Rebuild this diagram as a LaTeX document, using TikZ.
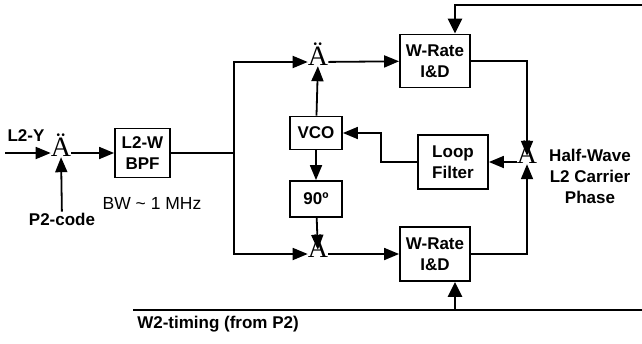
\documentclass[tikz,border=0pt]{standalone}
\usepackage{fontspec}
\setmainfont{Liberation Sans}
\newfontfamily\mixfont{Liberation Serif}
\usetikzlibrary{arrows.meta, positioning, calc}
\newcommand{\lblfont}{\bfseries\fontsize{17}{21}\selectfont}
\tikzset{
  blk/.style={draw, line width=1.8pt, minimum width=70pt, minimum height=54pt, align=center, font=\lblfont, inner sep=2pt},
  mix/.style={inner sep=0pt, font=\mixfont\fontsize{28}{28}\selectfont, text height=0.75em, text depth=0.05em},
  sig/.style={line width=1.8pt, -{Triangle[length=15pt,width=12pt]}},
  fbk/.style={line width=2.8pt, -{Triangle[length=15pt,width=14pt]}},
  wire/.style={line width=1.8pt},
  lbl/.style={font=\lblfont, align=center, inner sep=1pt}
}

\begin{document}
\begin{tikzpicture}[x=1pt, y=-1pt]
  \useasboundingbox (0,0) rectangle (642,343);

  % input stage
  \coordinate (in) at (5,153);
  \node[mix] (mixin) at (61,153) {Ä};
  \node[lbl] (ly) at (26,136) {L2-Y};
  \node[lbl] (pcode) at (62,219) {P2-code};
  \node[blk, minimum width=55pt, minimum height=49pt] (bpf) at (142.5,153) {L2-W\\BPF};
  \node[font=\fontsize{17.5}{21}\selectfont] (bw) at (152,203) {BW \textasciitilde{} 1 MHz};
  \coordinate (split) at (234,153);

  % carrier loop
  \node[mix] (mixi) at (318,62) {Ä};
  \node[mix] (mixq) at (318,254) {Ä};
  \node[blk, minimum width=52pt, minimum height=33pt] (vco) at (316,133) {VCO};
  \node[blk, minimum width=52pt, minimum height=36pt] (shift) at (316,199) {90º};
  \node[blk, minimum height=53pt] (idi) at (435,61) {W-Rate\\I\&D};
  \node[blk] (idq) at (435,254) {W-Rate\\I\&D};
  \node[blk] (loop) at (453,162) {Loop\\Filter};
  \node[mix] (mixd) at (527,160) {Ä};
  \node[lbl] (phase) at (590,176) {Half-Wave\\L2 Carrier\\Phase};

  % timing lines
  \coordinate (fbin) at (642,5);
  \coordinate (tstart) at (133,310);
  \coordinate (tend) at (642,310);
  \coordinate (tap) at (455,310);
  \node[lbl] (timing) at (218,324) {W2-timing (from P2)};

  \draw[sig] (in) -- (mixin);
  \draw[sig] (pcode) -- (mixin);
  \draw[sig] (mixin) -- (bpf);
  \draw[wire] (bpf) -- (split);
  \draw[sig] (split) |- (mixi);
  \draw[sig] (split) |- (mixq);
  \draw[sig] (vco) -- (mixi);
  \draw[sig] (vco) -- (shift);
  \draw[sig] (shift) -- (mixq);
  \draw[sig] (mixi) -- (idi);
  \draw[sig] (mixq) -- (idq);
  \draw[sig] (idi.east) -| (mixd.north);
  \draw[sig] (idq.east) -| (mixd.south);
  \draw[sig] (mixd.west |- loop) -- (loop);
  \draw[sig] (loop.west) -- ++(-36,0) |- (vco.east);

  \draw[wire] (fbin) -| (455,20);
  \draw[fbk] (455,18) -- (455,0 |- idi.north);
  \draw[wire] (tstart) -- (tend);
  \draw[fbk] (tap) -- (tap |- idq.south);
\end{tikzpicture}
\end{document}
